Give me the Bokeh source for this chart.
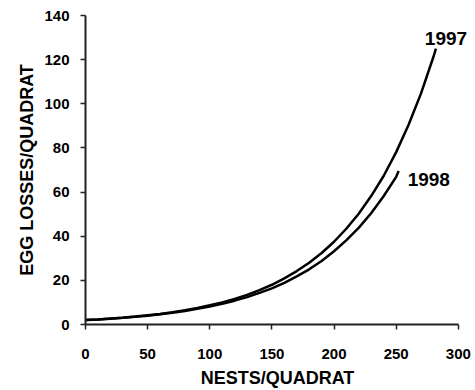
from bokeh.plotting import figure
from bokeh.models import Range1d, FixedTicker, Label
from bokeh.embed import file_html
from bokeh.resources import INLINE

# Data
nests_1997 = [0, 10, 20, 30, 40, 50, 60, 70, 80, 90, 100, 110, 120, 130, 140, 150,
              160, 170, 180, 190, 200, 210, 220, 230, 240, 250, 260, 270, 280, 282]
loss_1997 = [2.0, 2.3, 2.7, 3.1, 3.6, 4.2, 4.8, 5.6, 6.5, 7.5, 8.7, 10.0, 11.6, 13.4, 15.6, 18.0,
             20.9, 24.2, 28.0, 32.4, 37.5, 43.5, 50.3, 58.3, 67.4, 78.1, 90.5, 104.7, 121.3, 125.0]
nests_1998 = [0, 10, 20, 30, 40, 50, 60, 70, 80, 90, 100, 110, 120, 130, 140, 150,
              160, 170, 180, 190, 200, 210, 220, 230, 240, 250, 252]
loss_1998 = [2.0, 2.3, 2.65, 3.05, 3.5, 4.0, 4.6, 5.3, 6.15, 7.1, 8.1, 9.4, 10.8, 12.4, 14.3, 16.4,
             18.9, 21.8, 25.0, 28.8, 33.2, 38.2, 43.9, 50.5, 58.2, 66.9, 69.5]
series_labels = ["1997", "1998"]
x_ticks = [0, 50, 100, 150, 200, 250, 300]
y_ticks = [0, 20, 40, 60, 80, 100, 120, 140]

FONT = "Liberation Sans"

# x range runs a little past 300 so the "1997" label is not clipped; axis stops at 300
p = figure(width=475, height=390, output_backend="svg", toolbar_location=None,
           x_range=Range1d(0, 309), y_range=Range1d(0, 140),
           min_border_left=85, min_border_right=6, min_border_top=15, min_border_bottom=66)
p.outline_line_color = None
p.grid.visible = False
p.background_fill_color = "white"
p.border_fill_color = "white"

p.line(nests_1997, loss_1997, line_color="black", line_width=2.5)
p.line(nests_1998, loss_1998, line_color="black", line_width=2.5)

p.add_layout(Label(x=nests_1997[-1], y=loss_1997[-1], text=series_labels[0],
                   text_font=FONT, text_font_style="bold", text_font_size="19px",
                   text_align="center", text_baseline="alphabetic",
                   x_offset=10, y_offset=10, text_color="black"))
p.add_layout(Label(x=nests_1998[-1], y=loss_1998[-1], text=series_labels[1],
                   text_font=FONT, text_font_style="bold", text_font_size="19px",
                   text_align="left", text_baseline="alphabetic",
                   x_offset=9, y_offset=-8, text_color="black"))

for ax in (p.xaxis[0], p.yaxis[0]):
    ax.axis_line_color = "#222222"
    ax.axis_line_width = 2
    ax.major_tick_line_color = "#222222"
    ax.major_tick_line_width = 1.5
    ax.major_tick_out = 5
    ax.major_tick_in = 0
    ax.minor_tick_line_color = None
    ax.major_label_text_font = FONT
    ax.major_label_text_font_style = "bold"
    ax.major_label_text_font_size = "15px"
    ax.major_label_text_color = "black"
    ax.axis_label_text_font = FONT
    ax.axis_label_text_font_style = "bold"
    ax.axis_label_text_font_size = "18px"
    ax.axis_label_text_color = "black"

p.xaxis.bounds = (x_ticks[0], x_ticks[-1])
p.xaxis.ticker = FixedTicker(ticks=x_ticks)
p.yaxis.ticker = FixedTicker(ticks=y_ticks)
p.xaxis.axis_label = "NESTS/QUADRAT"
p.yaxis.axis_label = "EGG LOSSES/QUADRAT"
p.xaxis.major_label_standoff = 19
p.yaxis.major_label_standoff = 11
p.xaxis.axis_label_standoff = 6
p.yaxis.axis_label_standoff = 4

open("out.html", "w").write(file_html(p, INLINE))
